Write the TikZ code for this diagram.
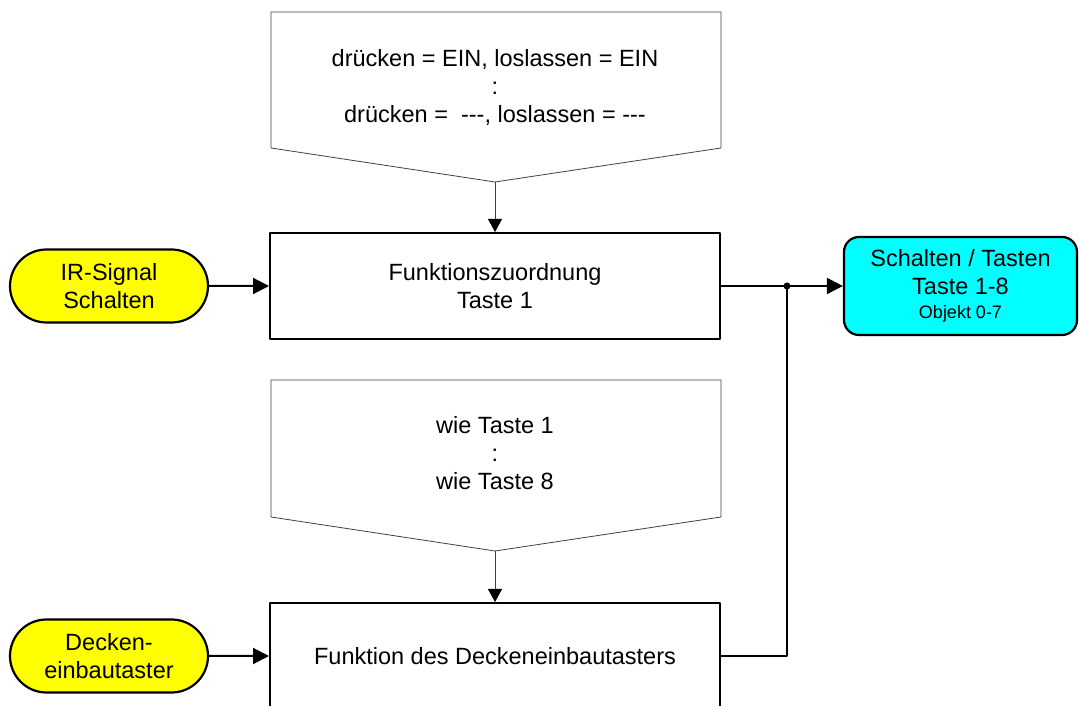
\documentclass[tikz,border=0pt]{standalone}
\usepackage{fontspec}
\setmainfont{Liberation Sans}
\usetikzlibrary{arrows.meta,shapes.misc}
\definecolor{srcyellow}{RGB}{255,255,0}
\definecolor{objcyan}{RGB}{0,255,255}
\tikzset{
  funcbox/.style={draw,rectangle,line width=2bp,minimum width=450bp,minimum height=106bp,align=center},
  srcnode/.style={draw,rounded rectangle,line width=2.2bp,fill=srcyellow,minimum width=198bp,minimum height=73bp,align=center,inner sep=0pt},
  objnode/.style={draw,rectangle,rounded corners=15bp,line width=2.2bp,fill=objcyan,minimum width=233bp,minimum height=98bp,align=center,inner sep=0pt},
  inframe/.style={draw=black!75,line width=0.8bp},
  thinedge/.style={draw=black!75,line width=0.8bp,-{Triangle[length=13bp,width=14bp,color=black]}},
  thickedge/.style={line width=2bp,->},
}
\begin{document}
\begin{tikzpicture}[>={Triangle[length=16bp,width=16bp]},line join=bevel,font=\fontsize{23.5bp}{28bp}\selectfont,]
    \useasboundingbox (0bp,0bp) rectangle (1079bp,706bp);
    %%
    \draw [inframe] (271bp,694bp) -- (721bp,694bp) -- (721bp,558bp) -- (495bp,524bp) -- (271bp,558bp) -- cycle;
    \draw [inframe] (271bp,326bp) -- (721bp,326bp) -- (721bp,189bp) -- (495bp,155bp) -- (271bp,189bp) -- cycle;
    \coordinate (p1tip) at (495bp,524bp);
    \coordinate (p2tip) at (495bp,155bp);
    \node (p1) at (495bp,618.5bp) [align=center] {drücken = EIN, loslassen = EIN\\:\\drücken =\ \ -{}-{}-, loslassen = -{}-{}-};
    \node (p2) at (495bp,252.5bp) [align=center] {wie Taste 1\\:\\wie Taste 8};
    \node (fz1) at (495bp,420bp) [funcbox] {Funktionszuordnung\\Taste 1};
    \node (fz2) at (495bp,50bp) [funcbox] {Funktion des Deckeneinbautasters};
    \node (ir) at (109bp,420bp) [srcnode] {IR-Signal\\Schalten};
    \node (dk) at (109bp,50bp) [srcnode] {Decken-\\einbautaster};
    \node (sw) at (960.5bp,420bp) [objnode] {Schalten / Tasten\\Taste 1-8\\[-4bp]{\fontsize{18bp}{21bp}\selectfont Objekt 0-7}};
    \coordinate (j) at (787bp,420bp);
    %
    \draw [thinedge] (p1tip) -- (fz1);
    \draw [thinedge] (p2tip) -- (fz2);
    \draw [thickedge] (ir) -- (fz1);
    \draw [thickedge] (dk) -- (fz2);
    \draw [line width=2bp] (fz1) -- (j);
    \draw [thickedge] (j) -- (sw);
    \draw [line width=2bp] (fz2.east) -| (j);
    \fill (j) circle (3.5bp);
    %
\end{tikzpicture}
\end{document}
